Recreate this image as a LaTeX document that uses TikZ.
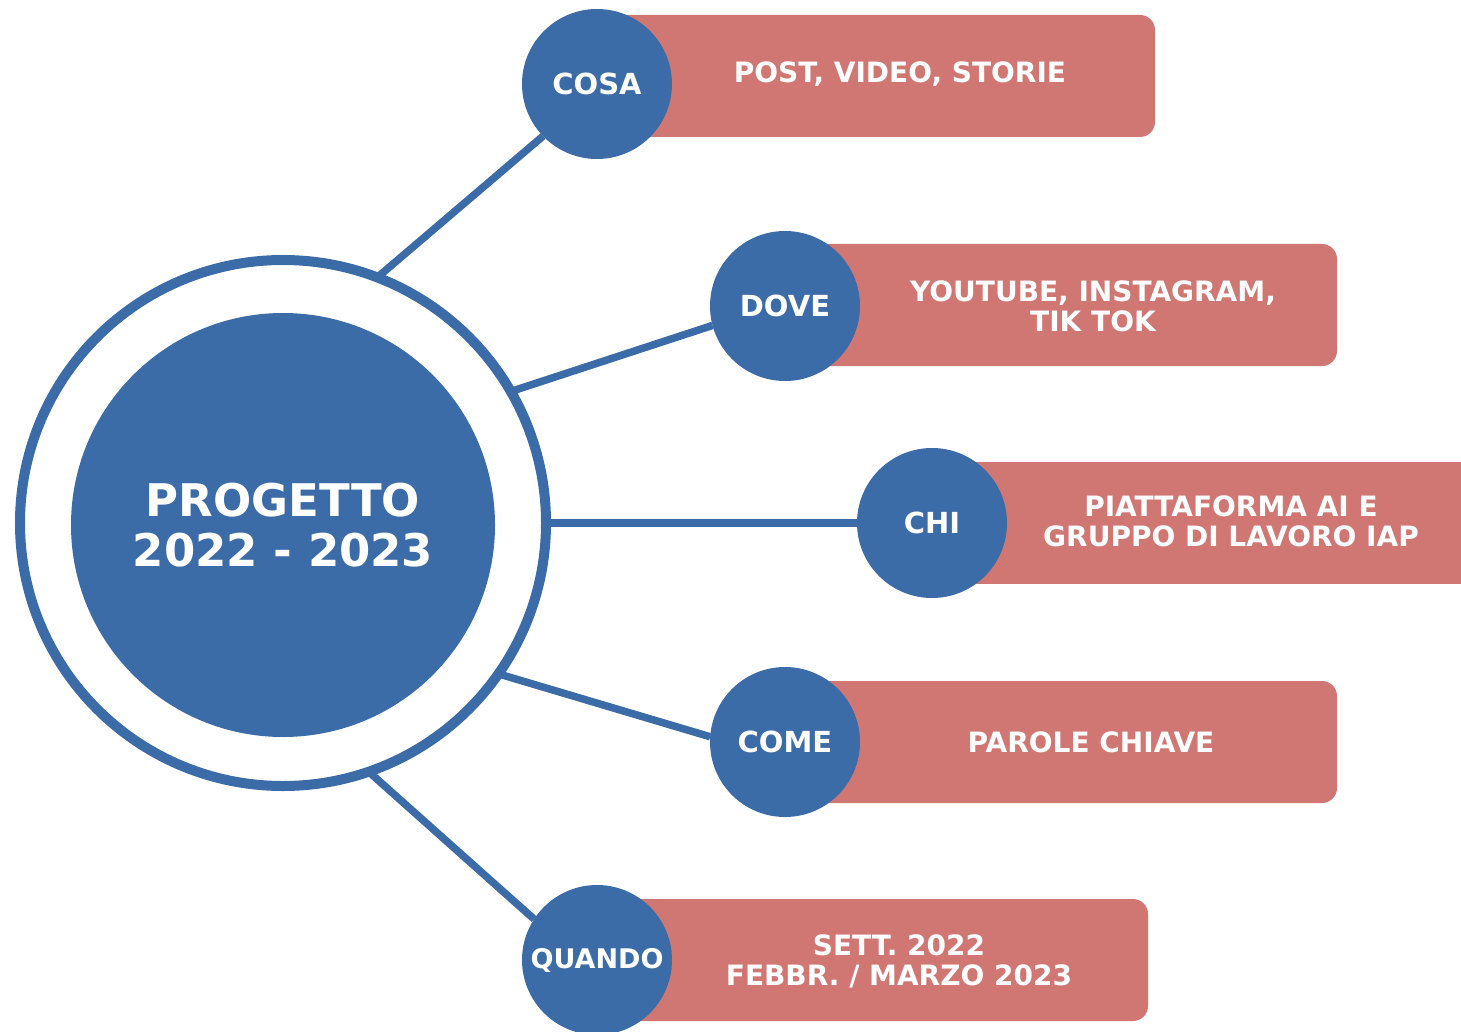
\documentclass[tikz,border=0pt]{standalone}
\usepackage{fontspec}
\setmainfont{DejaVu Sans}
\usetikzlibrary{backgrounds}
\definecolor{navy}{RGB}{59,108,167}
\definecolor{salmon}{RGB}{209,119,115}
\begin{document}
\begin{tikzpicture}[x=1pt,y=-1pt,
  hub/.style={circle, fill=navy, text=white, inner sep=0pt, outer sep=0pt,
    minimum size=150pt, font=\bfseries\fontsize{29}{31}\selectfont},
  bar/.style={fill=salmon, rounded corners=15pt},
  info/.style={text=white, align=center, inner sep=0pt,
    font=\bfseries\fontsize{28}{30}\selectfont},
  spoke/.style={draw=navy, line width=7.5pt}]
\useasboundingbox (0,0) rectangle (1461,1032);

% central project circle with its outer ring
\node[circle, draw=navy, line width=10pt, minimum size=526pt,
  inner sep=0pt, outer sep=0pt] (ring) at (283,523) {};
\node[circle, fill=navy, minimum size=424pt, inner sep=0pt, text=white,
  align=center, font=\bfseries\fontsize{45}{50}\selectfont]
  (core) at (283,525) {PROGETTO\\2022 - 2023};

% question hubs
\node[hub] (cosa)   at (597,84)  {\raisebox{-4pt}{COSA}};
\node[hub] (dove)   at (785,306) {DOVE};
\node[hub] (chi)    at (932,523) {CHI};
\node[hub] (come)   at (785,742) {COME};
\node[hub, font=\bfseries\fontsize{27}{29}\selectfont]
  (quando) at (597,960) {\raisebox{-4pt}{QUANDO}};

\begin{pgfonlayer}{background}
  % spokes from the ring to each hub
  \draw[spoke] (ring.69)  -- (cosa.224);
  \draw[spoke] (ring.30)  -- (dove.195);
  \draw[spoke] (ring.0)   -- (chi.180);
  \draw[spoke] (ring.-35) -- (come.176);
  \draw[spoke] (ring.-71) -- (quando.147);
  % answer bars behind the hubs
  \fill[bar] (600,15)  rectangle (1155,137);
  \fill[bar] (800,244) rectangle (1337,366);
  \fill[salmon] (940,462) rectangle (1461,584);
  \fill[bar] (800,681) rectangle (1337,803);
  \fill[bar] (610,899) rectangle (1148,1021);
\end{pgfonlayer}

% answers
\node[info] (tcosa)   at (900,74)   {POST, VIDEO, STORIE};
\node[info] (tdove)   at (1093,306) {YOUTUBE, INSTAGRAM,\\TIK TOK};
\node[info] (tchi)    at (1231,521) {PIATTAFORMA AI E\\GRUPPO DI LAVORO IAP};
\node[info] (tcome)   at (1091,742) {PAROLE CHIAVE};
\node[info] (tquando) at (899,961)  {SETT. 2022\\FEBBR. / MARZO 2023};
\end{tikzpicture}
\end{document}
